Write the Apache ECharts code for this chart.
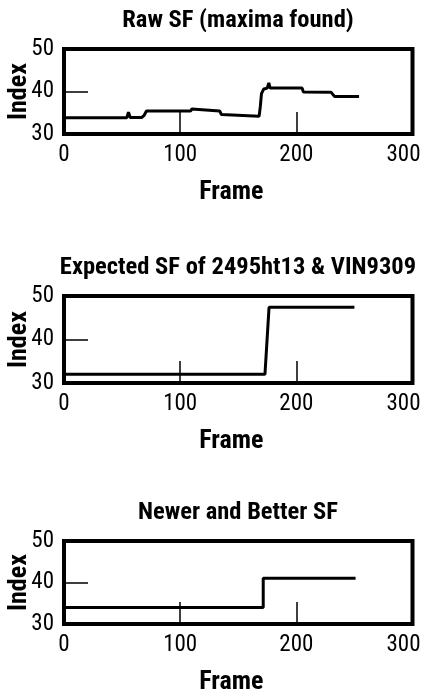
<!DOCTYPE html>
<html>
<head>
<meta charset="utf-8">
<script src="https://cdn.jsdelivr.net/npm/echarts@6/dist/echarts.min.js"></script>
<style>
html,body{margin:0;padding:0;background:#fff;}
#c{width:424px;height:698px;}
</style>
</head>
<body>
<div id="c"></div>
<script>
// ---- data ----
var titles = ['Raw SF (maxima found)', 'Expected SF of 2495ht13 & VIN9309', 'Newer and Better SF'];
var xTicks = [0, 100, 200, 300];
var yTicks = [30, 40, 50];

var rawFrames = [0, 36, 37, 38, 54, 55.5, 57, 67, 69, 71, 109, 110, 111.5, 134, 135.5, 137, 168, 169, 170, 172, 175, 176.3, 177.5, 205, 206, 230, 231, 233, 254];
var rawIndex  = [33.8, 33.8, 34.0, 33.8, 33.8, 35.1, 33.9, 33.9, 34.4, 35.4, 35.4, 35.9, 35.5, 35.4, 34.6, 34.2, 34.2, 36.5, 39.5, 40.6, 40.8, 42.0, 40.8, 40.8, 39.9, 39.8, 39.4, 38.8, 38.8];

var expFrames = [0, 173, 176.5, 250];
var expIndex  = [32, 32, 47.4, 47.4];

var newFrames = [0, 171.5, 171.5, 251];
var newIndex  = [34, 34, 41, 41];

// ---- build ----
function pairs(xs, ys) { return xs.map(function (x, i) { return [x, ys[i]]; }); }
var seriesData = [pairs(rawFrames, rawIndex), pairs(expFrames, expIndex), pairs(newFrames, newIndex)];

var cond = '"Roboto Condensed", "Open Sans Condensed", "Liberation Sans", sans-serif';
var grids = [
  { left: 64, right: 11.5, top: 49, height: 85 },
  { left: 64, right: 11.5, top: 296, height: 87 },
  { left: 64, right: 11.5, top: 541, height: 83 }
];
var titleTops = [8, 255, 500];

var option = {
  backgroundColor: '#fff',
  animation: false,
  title: titles.map(function (t, i) {
    return {
      text: t, left: 238, top: titleTops[i], textAlign: 'center', padding: 0,
      textStyle: { fontFamily: cond, fontWeight: 'bold', fontSize: 24.5, color: '#000' }
    };
  }),
  grid: grids.map(function (g) {
    return Object.assign({ show: true, borderColor: '#000', borderWidth: 4, backgroundColor: 'transparent', outerBoundsMode: 'none', containLabel: false }, g);
  }),
  xAxis: grids.map(function (g, i) {
    return {
      type: 'value', gridIndex: i, min: xTicks[0], max: xTicks[xTicks.length - 1], interval: 100,
      name: 'Frame', nameLocation: 'middle', nameGap: 45, nameMoveOverlap: false,
      nameTextStyle: { fontFamily: cond, fontWeight: 'bold', fontSize: 26, color: '#000', padding: [0, 14, 0, 0] },
      axisLine: { show: false },
      axisTick: { show: true, inside: true, length: 22, lineStyle: { color: '#000', width: 1.5 } },
      splitLine: { show: false },
      axisLabel: {
        fontFamily: cond, fontSize: 23, color: '#000', margin: 10,
        formatter: function (v) { return v === 300 ? '{r|300}' : String(v); },
        rich: { r: { fontFamily: cond, fontSize: 23, color: '#000', padding: [0, 18, 0, 0] } }
      }
    };
  }),
  yAxis: grids.map(function (g, i) {
    return {
      type: 'value', gridIndex: i, min: yTicks[0], max: yTicks[yTicks.length - 1], interval: 10,
      name: 'Index', nameLocation: 'middle', nameGap: 32, nameMoveOverlap: false,
      nameTextStyle: { fontFamily: cond, fontWeight: 'bold', fontSize: 26, color: '#000' },
      axisLine: { show: false },
      axisTick: { show: true, inside: true, length: 24, lineStyle: { color: '#000', width: 1.5 } },
      splitLine: { show: false },
      axisLabel: { fontFamily: cond, fontSize: 23, color: '#000', margin: 10 }
    };
  }),
  series: seriesData.map(function (d, i) {
    return {
      type: 'line', xAxisIndex: i, yAxisIndex: i, data: d, showSymbol: false, symbol: 'none',
      lineStyle: { color: '#000', width: 3 }, clip: true
    };
  })
};
var chart = echarts.init(document.getElementById('c'), null, { renderer: 'canvas' });
chart.setOption(option);
</script>
</body>
</html>
